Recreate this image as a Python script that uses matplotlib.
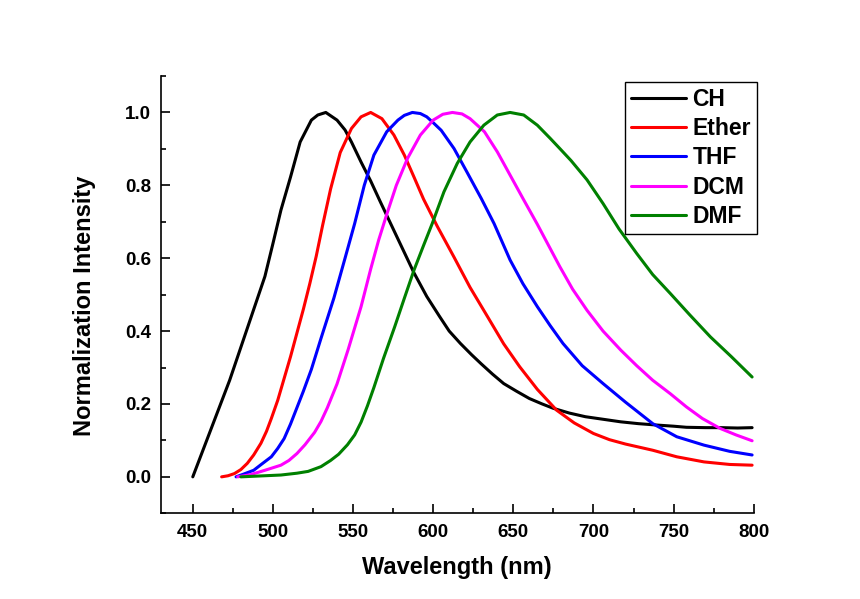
import matplotlib
matplotlib.use("Agg")
import matplotlib.pyplot as plt
from matplotlib.ticker import MultipleLocator, FormatStrFormatter

plt.rcParams['font.family'] = ['Liberation Sans', 'DejaVu Sans']
plt.rcParams['font.weight'] = 'bold'

# Normalized emission spectra in different solvents (wavelength in nm)
ch_x = [450, 473, 495, 500, 505, 511, 517, 524, 528, 533, 540, 545, 549, 555,
        561, 567, 574, 581, 588, 596, 604, 610, 617, 624, 630, 637, 644, 652,
        660, 668, 675, 685, 695, 706, 717, 728, 740, 750, 758, 770, 780, 790,
        799]
ch_y = [0.0, 0.265, 0.55, 0.64, 0.732, 0.823, 0.919, 0.979, 0.993, 1.0, 0.979,
        0.952, 0.919, 0.864, 0.812, 0.755, 0.69, 0.625, 0.56, 0.495, 0.44, 0.40,
        0.366, 0.335, 0.31, 0.282, 0.256, 0.235, 0.215, 0.20, 0.188, 0.175,
        0.165, 0.158, 0.151, 0.146, 0.142, 0.139, 0.136, 0.135, 0.135, 0.134,
        0.135]

ether_x = [468, 472, 476, 480, 484, 488, 492.5, 496, 499, 503, 506, 511, 515,
           519, 523, 527, 531, 536, 542, 549, 555, 561, 568, 575.5, 582, 588,
           594, 602.5, 613, 623, 634, 644, 654, 665, 677, 688, 700, 710, 720,
           737, 752, 769, 785, 799]
ether_y = [0.0, 0.003, 0.009, 0.02, 0.037, 0.06, 0.092, 0.125, 0.16, 0.21,
           0.255, 0.33, 0.395, 0.46, 0.53, 0.605, 0.69, 0.79, 0.89, 0.956,
           0.988, 1.0, 0.983, 0.938, 0.883, 0.823, 0.762, 0.688, 0.603, 0.52,
           0.439, 0.365, 0.302, 0.24, 0.183, 0.148, 0.119, 0.102, 0.09, 0.073,
           0.055, 0.041, 0.034, 0.032]

thf_x = [477, 482, 488, 493, 499, 503, 507, 511, 515, 519, 524, 530, 538, 545,
         551, 557, 563, 571, 578, 582, 587, 592, 596, 600, 605, 613, 621, 630,
         638, 648, 656, 665, 673, 681, 693, 706, 720, 737, 752, 769, 785, 799]
thf_y = [0.0, 0.008, 0.018, 0.035, 0.055, 0.078, 0.105, 0.145, 0.19, 0.235,
         0.295, 0.38, 0.49, 0.60, 0.695, 0.80, 0.883, 0.947, 0.979, 0.992, 1.0,
         0.997, 0.988, 0.972, 0.951, 0.901, 0.837, 0.764, 0.695, 0.595, 0.53,
         0.467, 0.415, 0.366, 0.305, 0.256, 0.205, 0.146, 0.11, 0.087, 0.07,
         0.06]

dcm_x = [478, 486, 495, 505, 510, 515, 520, 526, 530, 534, 540, 547, 555, 561,
         566, 571, 577, 584, 592, 600, 606, 612, 618, 623, 632, 640, 648, 656,
         665, 672, 679, 687, 696, 706, 717, 727, 737, 748, 758, 768, 779, 789,
         799]
dcm_y = [0.0, 0.006, 0.018, 0.032, 0.045, 0.064, 0.088, 0.122, 0.152, 0.19,
         0.255, 0.35, 0.467, 0.57, 0.65, 0.72, 0.80, 0.874, 0.938, 0.979, 0.995,
         1.0, 0.996, 0.983, 0.947, 0.892, 0.828, 0.764, 0.693, 0.635, 0.577,
         0.515, 0.457, 0.40, 0.348, 0.305, 0.265, 0.228, 0.192, 0.16, 0.133,
         0.115, 0.099]

dmf_x = [480, 490, 505, 515, 522, 530, 536, 541, 546.5, 551, 555, 559, 563,
         569, 576, 582, 588, 594, 599.4, 606.7, 615, 623, 631.6, 640, 648,
         656.5, 665, 673, 679, 686, 696, 706, 716, 727, 737, 748, 760, 773, 786,
         799]
dmf_y = [0.0, 0.002, 0.005, 0.01, 0.015, 0.028, 0.045, 0.062, 0.088, 0.115,
         0.15, 0.195, 0.245, 0.325, 0.412, 0.49, 0.567, 0.635, 0.695, 0.782,
         0.86, 0.919, 0.965, 0.993, 1.0, 0.993, 0.965, 0.929, 0.901, 0.868,
         0.815, 0.75, 0.68, 0.613, 0.555, 0.503, 0.445, 0.384, 0.33, 0.274]

labels = ['CH', 'Ether', 'THF', 'DCM', 'DMF']
colors = ['#000000', '#FF0000', '#0000FF', '#FF00FF', '#008000']
series = [(ch_x, ch_y), (ether_x, ether_y), (thf_x, thf_y),
          (dcm_x, dcm_y), (dmf_x, dmf_y)]

fig = plt.figure(figsize=(8.6, 5.99), dpi=100)
ax = fig.add_axes([0.1869, 0.1431, 0.6895, 0.7300])

for (xs, ys), lab, col in zip(series, labels, colors):
    ax.plot(xs, ys, color=col, lw=2.2, label=lab,
            solid_joinstyle='round', solid_capstyle='round')

ax.set_xlim(430, 800)
ax.set_ylim(-0.1, 1.1)
ax.xaxis.set_minor_locator(MultipleLocator(25))
ax.yaxis.set_minor_locator(MultipleLocator(0.1))
ax.set_xticks([450, 500, 550, 600, 650, 700, 750, 800])
ax.set_yticks([0.0, 0.2, 0.4, 0.6, 0.8, 1.0])
ax.yaxis.set_major_formatter(FormatStrFormatter('%.1f'))

for side in ('top', 'right'):
    ax.spines[side].set_visible(False)
for side in ('left', 'bottom'):
    ax.spines[side].set_linewidth(1.2)

ax.tick_params(which='major', direction='in', length=6.5, width=1.2,
               labelsize=13.5)
ax.tick_params(which='minor', direction='in', length=3.5, width=1.2)
ax.tick_params(axis='y', which='major', pad=7)
ax.tick_params(axis='x', which='major', pad=7.5)
for t in ax.get_xticklabels() + ax.get_yticklabels():
    t.set_fontweight('bold')

ax.set_xlabel('Wavelength (nm)', fontsize=17, fontweight='bold')
ax.set_ylabel('Normalization Intensity', fontsize=17, fontweight='bold')
ax.xaxis.set_label_coords(0.5, -0.125)
ax.xaxis.label.set_verticalalignment('center')
ax.yaxis.set_label_coords(-0.129, 0.474)
ax.yaxis.label.set_verticalalignment('center')

leg = ax.legend(loc='upper left', bbox_to_anchor=(625 / 860, 1 - 82.3 / 599),
                bbox_transform=fig.transFigure, borderaxespad=0,
                prop={'weight': 'bold', 'size': 16.5},
                handlelength=2.4, handletextpad=0.3, labelspacing=0.27,
                borderpad=0.25, fancybox=False, framealpha=1, edgecolor='black')
leg.get_frame().set_linewidth(1.0)
for line in leg.get_lines():
    line.set_linewidth(2.2)

fig.savefig('out.png', dpi=100, facecolor='white')
